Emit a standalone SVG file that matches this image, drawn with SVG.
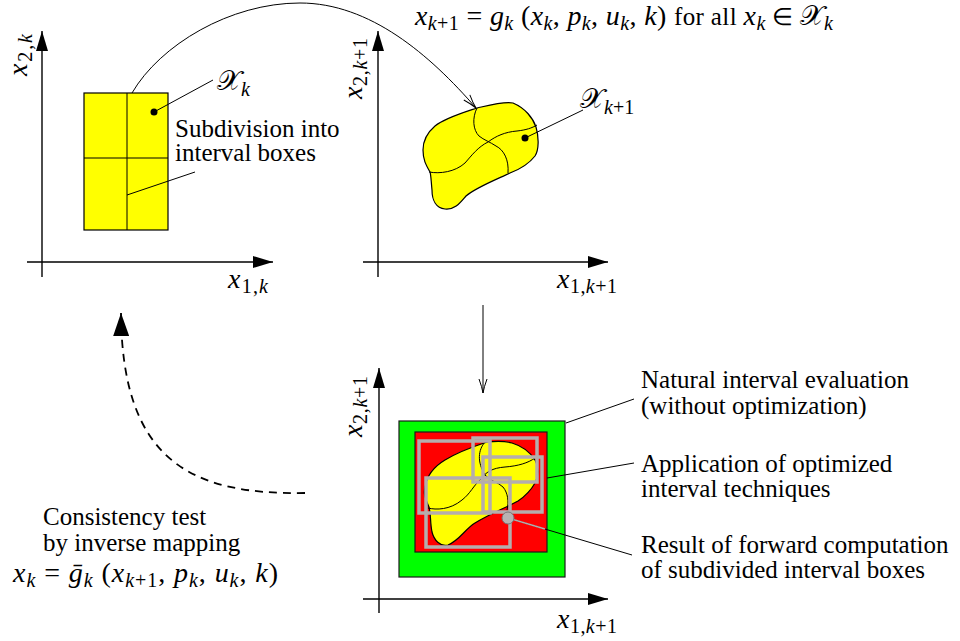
<svg xmlns="http://www.w3.org/2000/svg" width="960" height="641" viewBox="0 0 960 641">
<style>
text{font-family:'Liberation Serif','Times New Roman',serif}
.t{font-size:25px;fill:#000}
.m{font-size:28px;font-style:italic;fill:#000}
.r{font-style:normal}
.s{font-size:20px}
.cal{font-family:'DejaVu Serif',serif;font-style:normal}
.op{font-size:24px;font-style:normal}
.ax{stroke:#000;stroke-width:1.4;fill:none}
.ln{stroke:#000;stroke-width:1;fill:none}
.box{fill:none;stroke:#b5adad;stroke-width:3.5}
</style>
<defs>
<marker id="fa" viewBox="0 0 20 12" refX="20" refY="6" markerWidth="20" markerHeight="12" markerUnits="userSpaceOnUse" orient="auto"><path d="M0,0 L20,6 L0,12 Z" fill="#000"/></marker>
<marker id="fb" viewBox="0 0 23 16" refX="23" refY="8" markerWidth="23" markerHeight="16" markerUnits="userSpaceOnUse" orient="auto"><path d="M0,0 L23,8 L0,16 Z" fill="#000"/></marker>
<marker id="oa" viewBox="0 0 16 10" refX="15" refY="5" markerWidth="16" markerHeight="10" markerUnits="userSpaceOnUse" orient="auto"><path d="M1,1 Q9,4 15,5 Q9,6 1,9" fill="none" stroke="#000" stroke-width="1"/></marker>
</defs>

<g id="panel1">
<line class="ax" x1="42" y1="277" x2="42" y2="31" marker-end="url(#fa)"/>
<line class="ax" x1="27" y1="262" x2="273" y2="262" marker-end="url(#fa)"/>
<rect x="84" y="93" width="84" height="137" fill="#ffff00" stroke="#000" stroke-width="1.2"/>
<line class="ln" x1="127" y1="93" x2="127" y2="230"/>
<line class="ln" x1="84" y1="158" x2="168" y2="158"/>
<text class="m" transform="translate(27,76) rotate(-90)" textLength="42">x<tspan class="r s" dy="5">2,</tspan><tspan class="s">k</tspan></text>
<text class="m" x="228" y="288" textLength="40">x<tspan class="r s" dy="5">1,</tspan><tspan class="s">k</tspan></text>
</g>

<g id="Xk-label">
<line class="ln" x1="154" y1="112" x2="213" y2="80"/>
<circle cx="154" cy="112" r="3.5" fill="#000"/>
<text class="m" x="217" y="90"><tspan class="cal">𝒳</tspan><tspan class="s" dy="6">k</tspan></text>
</g>

<g id="subdivision-label">
<line class="ln" x1="127" y1="195" x2="195" y2="172"/>
<text class="t" x="175" y="137">Subdivision into</text>
<text class="t" x="175" y="161">interval boxes</text>
</g>

<g id="panel2">
<line class="ax" x1="378" y1="277" x2="378" y2="31" marker-end="url(#fa)"/>
<line class="ax" x1="363" y1="262" x2="608" y2="262" marker-end="url(#fa)"/>
<path d="M477,108 C490,105 505,101 513,103 C525,108 533,118 536,127 C539,137 539,150 535,156 C528,165 518,170 510,173 C495,180 475,188 466,196 C460,203 455,210 445,209 C436,208 432,200 432,190 C431,180 431,175 430,172 C426,165 423,160 423,150 C423,140 428,132 435,126 C445,118 462,113 477,108 Z" fill="#ffff00" stroke="#000" stroke-width="1.2"/>
<path class="ln" d="M477,108 C472,118 473,130 479,136 C484,140 490,142 496,146 C504,150 509,160 508,173"/>
<path class="ln" d="M429,172 C440,174 455,172 465,163 C472,155 478,147 488,142 C496,136 505,132 517,131 C526,130 532,128 537,125"/>
<text class="m" transform="translate(362,99) rotate(-90)" textLength="61">x<tspan class="r s" dy="5">2,</tspan><tspan class="s">k</tspan><tspan class="r s">+1</tspan></text>
<text class="m" x="557" y="288" textLength="60">x<tspan class="r s" dy="5">1,</tspan><tspan class="s">k</tspan><tspan class="r s">+1</tspan></text>
</g>

<g id="Xk1-label">
<line class="ln" x1="525" y1="138" x2="583" y2="110"/>
<circle cx="525" cy="138" r="3.5" fill="#000"/>
<text class="m" x="580" y="108"><tspan class="cal">𝒳</tspan><tspan class="s" dy="6">k</tspan><tspan class="r s">+1</tspan></text>
</g>

<g id="formula-top">
<text class="m" x="415" y="25" textLength="418" lengthAdjust="spacing">x<tspan class="s" dy="5">k</tspan><tspan class="r s">+1</tspan><tspan class="r" dy="-5"> = </tspan>g<tspan class="s" dy="5">k</tspan><tspan class="r" dy="-5"> (</tspan>x<tspan class="s" dy="5">k</tspan><tspan class="r" dy="-5">, </tspan>p<tspan class="s" dy="5">k</tspan><tspan class="r" dy="-5">, </tspan>u<tspan class="s" dy="5">k</tspan><tspan class="r" dy="-5">, </tspan>k<tspan class="r">) </tspan><tspan class="r" font-size="25">for all </tspan>x<tspan class="s" dy="5">k</tspan><tspan class="op" dy="-5"> ∈ </tspan><tspan class="cal">𝒳</tspan><tspan class="s" dy="5">k</tspan></text>
</g>

<g id="panel3">
<line class="ax" x1="379" y1="613" x2="379" y2="368" marker-end="url(#fa)"/>
<line class="ax" x1="363" y1="599" x2="608" y2="599" marker-end="url(#fa)"/>
<rect x="399" y="421" width="166" height="156" fill="#00ff00" stroke="#1a1a1a" stroke-width="1.2"/>
<rect x="415" y="432" width="132" height="120" fill="#ff0000" stroke="#1a1a1a" stroke-width="1.2"/>
<path d="M425,487 C427,475 435,466 445,460 C458,452 472,447 487,442 C497,441 505,441 512,443 C522,446 530,452 535,460 C539,467 539,476 535,483 C530,492 524,497 518,501 C505,508 490,514 475,523 C465,529 460,540 448,545 C440,547 434,540 432,532 C430,522 431,514 429,507 C426,500 423,495 425,487 Z" fill="#ffff00" stroke="#000" stroke-width="1.2"/>
<path class="ln" d="M485,442 C478,450 477,462 485,475 C490,481 498,482 503,487 C508,493 509,502 507,510"/>
<path class="ln" d="M428,508 C436,510 450,510 462,500 C470,494 474,485 480,480 C486,472 492,468 505,467 C518,466 528,463 535,458"/>
<rect class="box" x="419" y="441" width="71" height="72"/>
<rect class="box" x="473" y="438" width="64" height="44"/>
<rect class="box" x="483" y="457" width="59" height="55"/>
<rect class="box" x="426" y="478" width="84" height="69"/>
<text class="m" transform="translate(362,437) rotate(-90)" textLength="61">x<tspan class="r s" dy="5">2,</tspan><tspan class="s">k</tspan><tspan class="r s">+1</tspan></text>
<text class="m" x="557" y="628" textLength="60">x<tspan class="r s" dy="5">1,</tspan><tspan class="s">k</tspan><tspan class="r s">+1</tspan></text>
</g>

<g id="natural-label">
<line class="ln" x1="566" y1="423" x2="634" y2="399"/>
<text class="t" x="641" y="388">Natural interval evaluation</text>
<text class="t" x="641" y="414">(without optimization)</text>
</g>

<g id="application-label">
<line class="ln" x1="547" y1="478" x2="634" y2="463"/>
<text class="t" x="641" y="472">Application of optimized</text>
<text class="t" x="641" y="497">interval techniques</text>
</g>

<g id="result-label">
<line class="ln" x1="508" y1="518" x2="632" y2="555"/>
<line x1="508" y1="518" x2="545" y2="529" stroke="#b5adad" stroke-width="1.5"/>
<circle cx="508" cy="518" r="6" fill="#b9b2b2" stroke="#777" stroke-width="1"/>
<text class="t" x="641" y="553">Result of forward computation</text>
<text class="t" x="641" y="578">of subdivided interval boxes</text>
</g>

<g id="consistency-label">
<text class="t" x="43" y="525">Consistency test</text>
<text class="t" x="43" y="551">by inverse mapping</text>
<text class="m" x="13" y="582" textLength="265" lengthAdjust="spacing">x<tspan class="s" dy="5">k</tspan><tspan class="r" dy="-5"> = </tspan>ḡ<tspan class="s" dy="5">k</tspan><tspan class="r" dy="-5"> (</tspan>x<tspan class="s" dy="5">k</tspan><tspan class="r s">+1</tspan><tspan class="r" dy="-5">, </tspan>p<tspan class="s" dy="5">k</tspan><tspan class="r" dy="-5">, </tspan>u<tspan class="s" dy="5">k</tspan><tspan class="r" dy="-5">, </tspan>k<tspan class="r">)</tspan></text>
</g>

<g id="connectors">
<path class="ln" d="M132,93 C160,45 230,3 300,3 C370,3 430,55 476,108" marker-end="url(#oa)"/>
<line class="ln" x1="483" y1="305" x2="483" y2="393" marker-end="url(#oa)"/>
<path d="M305,493 C190,495 122,460 121,313" fill="none" stroke="#000" stroke-width="1.8" stroke-dasharray="8,6" marker-end="url(#fb)"/>
</g>
</svg>
